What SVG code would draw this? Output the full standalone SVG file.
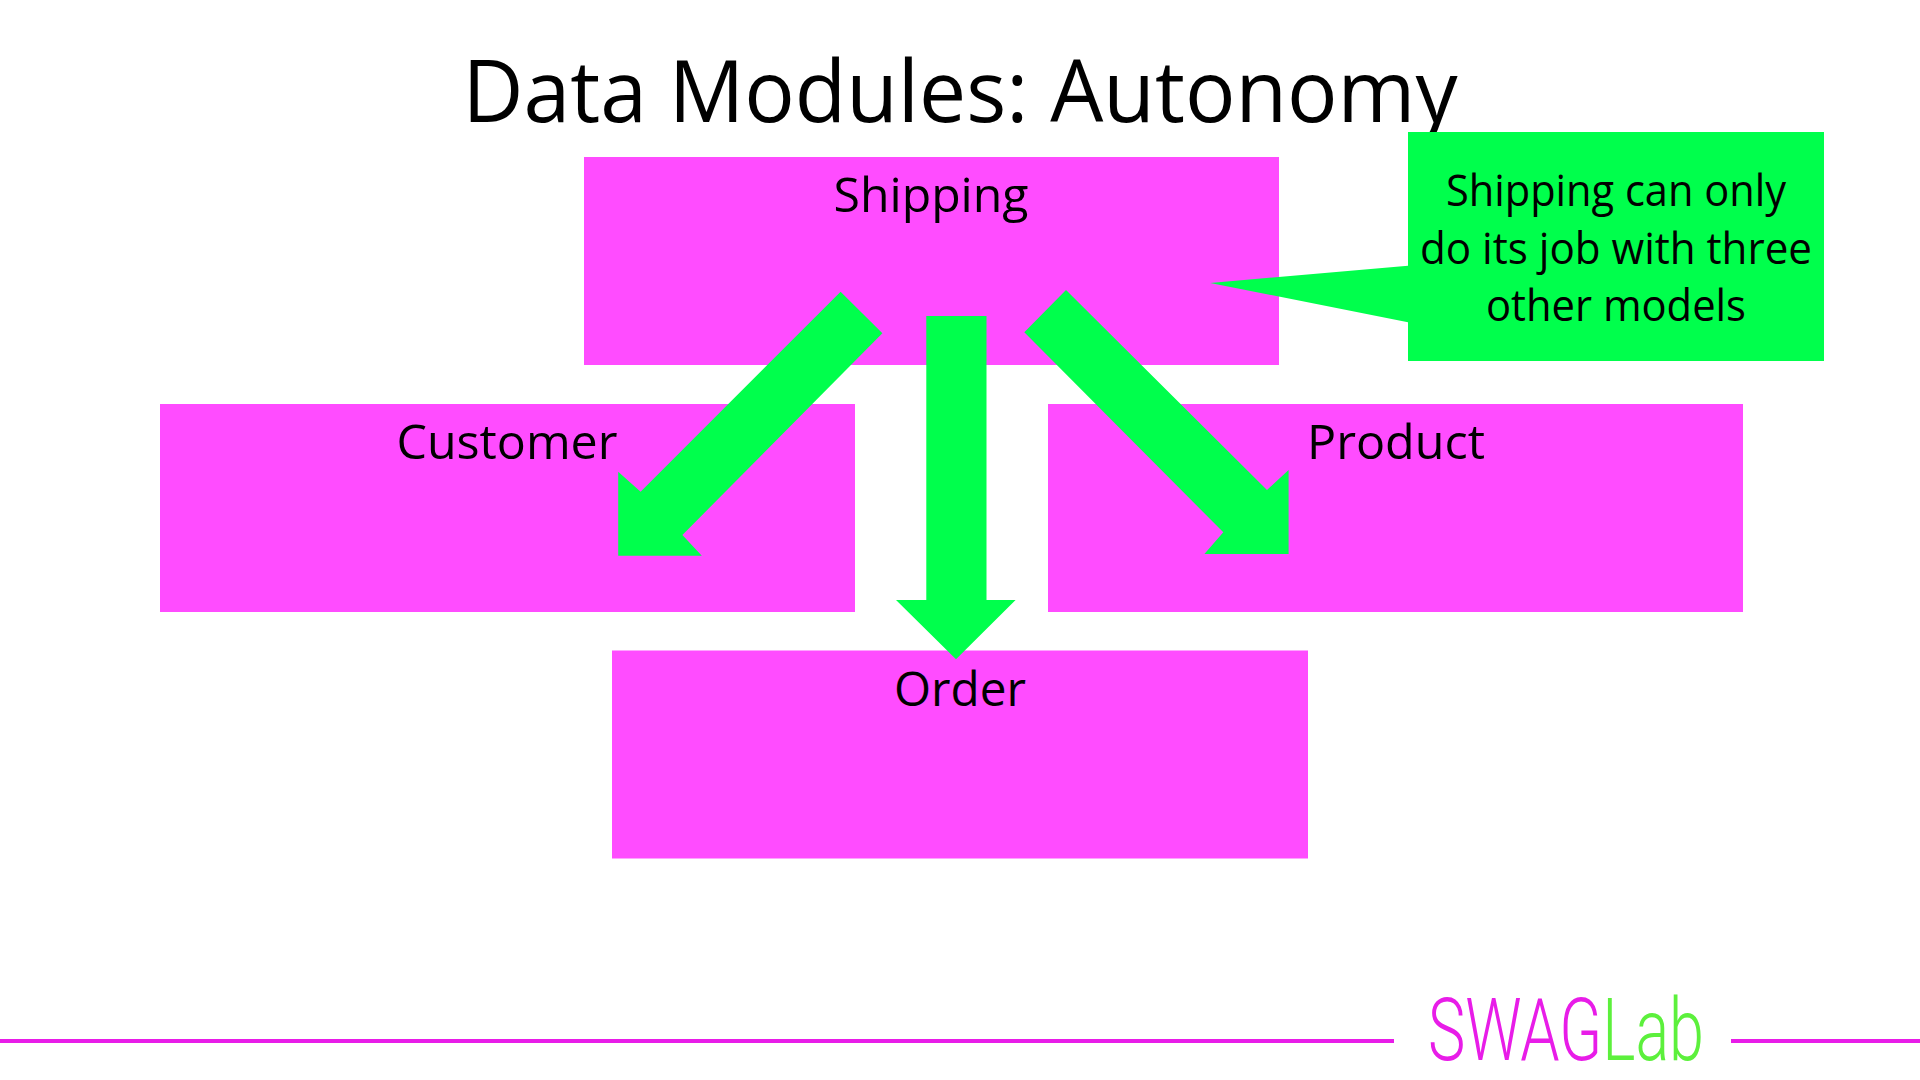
<svg xmlns="http://www.w3.org/2000/svg" width="1920" height="1080" viewBox="0 0 1920 1080">
<style>
text{font-family:"Open Sans","Noto Sans",sans-serif;fill:#000;text-anchor:middle}
.t{font-size:48px}
.c{font-size:44px}
.box{fill:#ff4cff}
.g{fill:#00ff4c}
.logo{font-family:Roboto,"Liberation Sans",sans-serif;font-weight:300;font-size:88px;text-anchor:start}
</style>
<rect width="1920" height="1080" fill="#fff"/>
<text id="title" x="960" y="122" font-size="86" textLength="995" lengthAdjust="spacingAndGlyphs">Data Modules: Autonomy</text>
<g id="shipping"><rect class="box" x="584" y="157" width="695" height="208"/><text class="t" x="931" y="212" textLength="195" lengthAdjust="spacingAndGlyphs">Shipping</text></g>
<g id="customer"><rect class="box" x="160" y="404" width="695" height="208"/><text class="t" x="507" y="459" textLength="221" lengthAdjust="spacingAndGlyphs">Customer</text></g>
<g id="product"><rect class="box" x="1048" y="404" width="695" height="208"/><text class="t" x="1396" y="459" textLength="178" lengthAdjust="spacingAndGlyphs">Product</text></g>
<g id="order"><rect class="box" x="612" y="650.5" width="696" height="208"/><text class="t" x="960" y="706" textLength="132" lengthAdjust="spacingAndGlyphs">Order</text></g>
<g id="connectors">
<polygon class="g" points="840.6,291.7 882.4,333.3 682.4,535 701.8,555.7 618.2,555.7 618.2,471.7 640.6,491.7"/>
<polygon class="g" points="926.3,316 986.5,316 986.5,600 1015.6,600 956,659.3 896,600 926.3,600"/>
<polygon class="g" points="1066,290 1024.3,332.3 1223.3,532.3 1204.4,554 1288.6,554 1288.6,470 1267,490"/>
</g>
<g id="callout">
<polygon class="g" points="1408,132 1824,132 1824,361 1408,361 1408,322.3 1210.3,283 1408,265.7"/>
<text class="c" x="1616" y="206" textLength="340" lengthAdjust="spacingAndGlyphs">Shipping can only</text>
<text class="c" x="1616" y="264" textLength="392" lengthAdjust="spacingAndGlyphs">do its job with three</text>
<text class="c" x="1616" y="321" textLength="260" lengthAdjust="spacingAndGlyphs">other models</text>
</g>
<g id="footer">
<rect x="0" y="1039" width="1394" height="4" fill="#e81ce8"/>
<rect x="1731" y="1039" width="189" height="4" fill="#e81ce8"/>
<text class="logo" x="1428" y="1060" style="fill:#e81ce8" textLength="276" lengthAdjust="spacingAndGlyphs">SWAG<tspan style="fill:#5cf03c">Lab</tspan></text>
</g>
</svg>
